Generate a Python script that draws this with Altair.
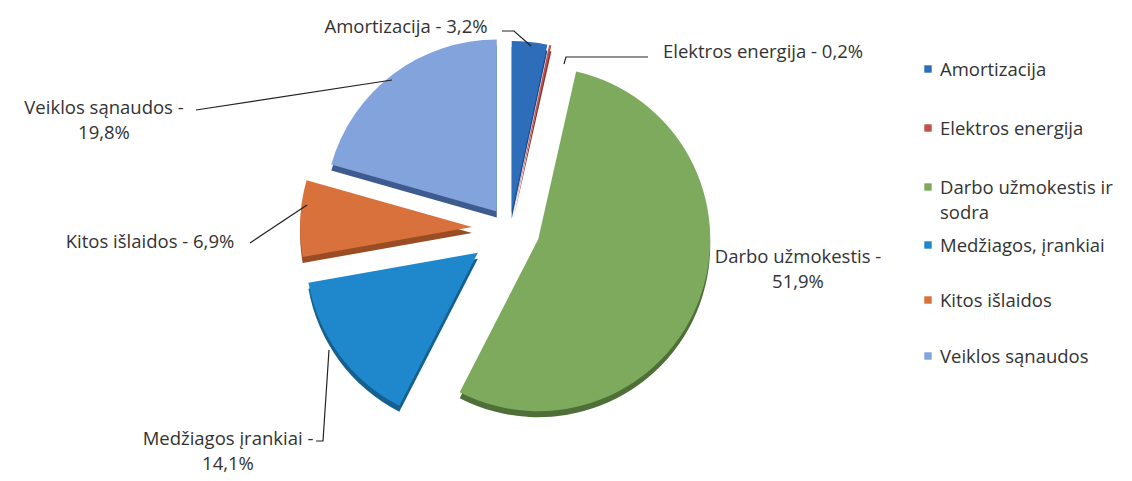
import altair as alt
import pandas as pd

# ---------------- data ----------------
categories = [
    "Amortizacija",
    "Elektros energija",
    "Darbo užmokestis ir sodra",
    "Medžiagos, įrankiai",
    "Kitos išlaidos",
    "Veiklos sąnaudos",
]
values = [3.2, 0.2, 51.9, 14.1, 6.9, 19.8]
slice_labels = [
    "Amortizacija - 3,2%",
    "Elektros energija - 0,2%",
    "Darbo užmokestis -\n51,9%",
    "Medžiagos įrankiai -\n14,1%",
    "Kitos išlaidos - 6,9%",
    "Veiklos sąnaudos -\n19,8%",
]
legend_labels = [
    "Amortizacija",
    "Elektros energija",
    "Darbo užmokestis ir\nsodra",
    "Medžiagos, įrankiai",
    "Kitos išlaidos",
    "Veiklos sąnaudos",
]

# ---------------- style / layout ----------------
M = 8  # page margin: layout below is given in page pixels
top_colors = ["#2D6DBA", "#C0504D", "#7DAA5C", "#1F88CC", "#D8713B", "#82A3DC"]
side_colors = ["#1C4A86", "#8A3230", "#4F6F39", "#15608F", "#9A4C24", "#3E5B90"]
explode = [16, 16, 30, 40, 38, 22]
CX, CY, R, DEPTH = 510 - M, 229 - M, 172, 6
FONT = "Open Sans"
FS = 18.5
TXT = "#333333"

# first-line position of each slice label
label_pos = [(406, 27), (763, 52), (798, 257), (228, 439), (150, 242), (104, 108)]
leaders = [
    [(502, 31), (514, 31), (531, 46)],
    [(648, 57), (566, 57), (564, 64)],
    [],
    [(316, 441), (323, 441), (329, 350)],
    [(250, 243), (307, 205)],
    [(196, 110), (392, 80)],
]
legend_sq_x, legend_txt_x = 928, 940
legend_rows = [69, 128, 187, 245, 300, 356]

# ---------------- tables ----------------
pie = pd.DataFrame({
    "category": categories,
    "value": values,
    "order": list(range(len(categories))),
    "explode": explode,
    "top": top_colors,
    "side": side_colors,
})

labels = pd.DataFrame({
    "text": slice_labels,
    "x": [p[0] - M for p in label_pos],
    "y": [p[1] - M for p in label_pos],
})

lead_rows = []
for i, pts in enumerate(leaders):
    for j, (x, y) in enumerate(pts):
        lead_rows.append({"id": i, "seq": j, "x": x - M, "y": y - M})
lead = pd.DataFrame(lead_rows)

legend = pd.DataFrame({
    "text": legend_labels,
    "color": top_colors,
    "y": [r - M for r in legend_rows],
})

# ---------------- pie ----------------
base = (
    alt.Chart(pie)
    .transform_joinaggregate(total="sum(value)")
    .transform_window(cum="sum(value)", sort=[alt.SortField("order")])
    .transform_calculate(
        a0="2*PI*(datum.cum-datum.value)/datum.total",
        a1="2*PI*datum.cum/datum.total",
    )
    .transform_calculate(mid="(datum.a0+datum.a1)/2")
    .transform_calculate(
        px=f"{CX}+datum.explode*sin(datum.mid)",
        py=f"{CY}-datum.explode*cos(datum.mid)",
    )
    .transform_calculate(py2=f"datum.py+{DEPTH}")
)

sides = base.mark_arc(radius=R).encode(
    x=alt.X("px:Q", scale=None),
    y=alt.Y("py2:Q", scale=None),
    theta=alt.Theta("a0:Q", scale=None),
    theta2="a1:Q",
    color=alt.Color("side:N", scale=None),
)
tops = base.mark_arc(radius=R).encode(
    x=alt.X("px:Q", scale=None),
    y=alt.Y("py:Q", scale=None),
    theta=alt.Theta("a0:Q", scale=None),
    theta2="a1:Q",
    color=alt.Color("top:N", scale=None),
)

lines = alt.Chart(lead).mark_line(color="#222222", strokeWidth=1.2).encode(
    x=alt.X("x:Q", scale=None),
    y=alt.Y("y:Q", scale=None),
    detail="id:N",
    order="seq:Q",
)

texts = alt.Chart(labels).mark_text(
    font=FONT, fontSize=FS, color=TXT, align="center", baseline="middle",
    lineBreak="\n", lineHeight=25,
).encode(
    x=alt.X("x:Q", scale=None),
    y=alt.Y("y:Q", scale=None),
    text="text:N",
)

leg_sq = alt.Chart(legend).mark_square(size=55, opacity=1).encode(
    x=alt.value(legend_sq_x - M),
    y=alt.Y("y:Q", scale=None),
    color=alt.Color("color:N", scale=None),
)
leg_txt = alt.Chart(legend).mark_text(
    font=FONT, fontSize=FS, color=TXT, align="left", baseline="alphabetic",
    lineBreak="\n", lineHeight=25, dy=7,
).encode(
    x=alt.value(legend_txt_x - M),
    y=alt.Y("y:Q", scale=None),
    text="text:N",
)

chart = (
    alt.layer(sides, tops, lines, texts, leg_sq, leg_txt)
    .properties(
        width=1116, height=465, padding=0,
        autosize=alt.AutoSizeParams(type="fit", contains="padding"),
        background="#FFFFFF",
    )
    .configure_view(stroke=None)
)

chart.save("out.html", embed_options={"renderer": "svg", "actions": False})
